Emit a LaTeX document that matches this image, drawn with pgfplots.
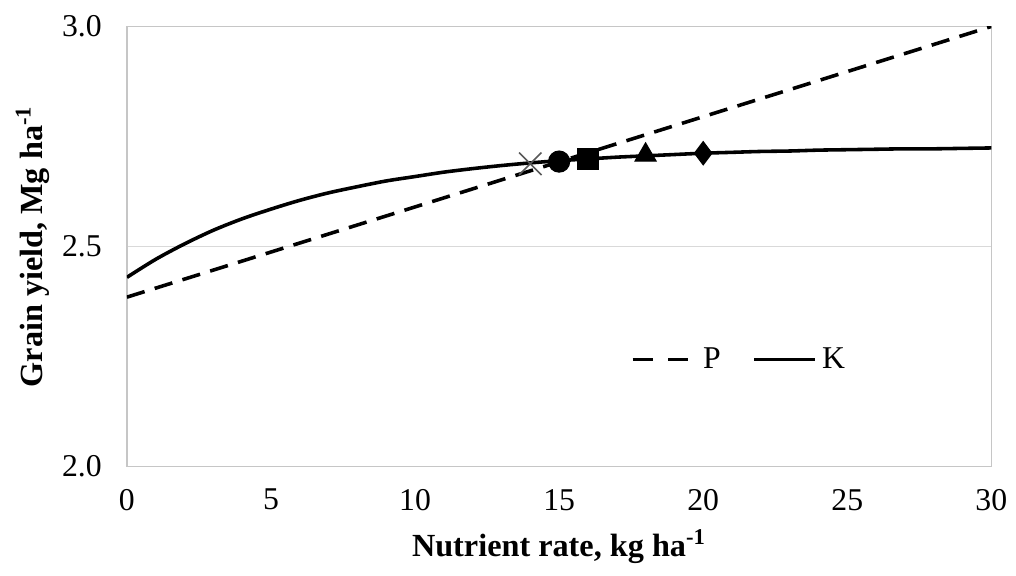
\documentclass[border={2.6pt 1pt 0pt 2.6pt}]{standalone}
\usepackage{pgfplots}
\pgfplotsset{compat=1.18}
\usepackage{fontspec}
\setmainfont{Liberation Serif}

\begin{document}
\begin{tikzpicture}
\begin{axis}[
  scale only axis,
  width=327pt, height=166.5pt,
  xmin=0, xmax=30, ymin=2.0, ymax=3.0,
  xtick={0,5,...,30}, ytick={2.0,2.5,3.0},
  tick style={draw=none},
  axis line style={draw=gray!45, line width=0.6pt},
  ymajorgrids=true,
  grid style={draw=gray!30, line width=0.6pt},
  /pgf/number format/assume math mode=true,
  yticklabel style={/pgf/number format/fixed, /pgf/number format/zerofill,
    /pgf/number format/precision=1, xshift=-6pt},
  xticklabel style={yshift=-5pt},
  tick label style={font=\fontsize{12}{14}\selectfont},
  xlabel={\textbf{Nutrient rate, kg ha\textsuperscript{-1}}},
  ylabel={\textbf{Grain yield, Mg ha\textsuperscript{-1}}},
  label style={font=\fontsize{12.2}{14}\selectfont},
  xlabel style={yshift=-0.5pt},
  ylabel style={yshift=-2pt},
  clip=true,
  legend columns=2,
  legend style={draw=none, fill=none, at={(0.71,0.243)}, anchor=center,
    font=\fontsize{12}{14}\selectfont,
    /tikz/every even column/.append style={column sep=10pt}},
  legend image code/.code={\draw[#1] (0pt,0pt) -- (23pt,0pt);},
]
\addplot[black, line width=1.35pt, dash pattern=on 7pt off 4pt,
  legend image code/.code={\draw[black, line width=1.35pt, dash pattern=on 7.5pt off 6pt] (0pt,0pt) -- (21pt,0pt);}]
  coordinates {(0,2.385) (30,3.0)};
\addlegendentry{\hspace{3pt}P}
\addplot[black, line width=1.35pt, smooth] coordinates {
  (0,2.430) (1,2.471) (2,2.506) (3,2.537) (4,2.563) (5,2.585) (6,2.605)
  (7,2.622) (8,2.636) (9,2.649) (10,2.659) (11,2.669) (12,2.677) (13,2.684)
  (14,2.690) (15,2.695) (16,2.699) (17,2.703) (18,2.706) (19,2.709) (20,2.712)
  (21,2.714) (22,2.716) (23,2.717) (24,2.719) (25,2.720) (26,2.721) (27,2.722)
  (28,2.722) (29,2.723) (30,2.724)
};
\addlegendentry{K}
\addplot[only marks, mark=x, mark size=6pt, draw=black!65, line width=0.6pt, forget plot]
  coordinates {(14,2.688)};
\addplot[only marks, mark=*, mark size=4pt, black, forget plot]
  coordinates {(15,2.693)};
\addplot[only marks, mark=square*, mark size=4pt, black, forget plot]
  coordinates {(16,2.698)};
\addplot[only marks, mark=triangle*, mark size=4.6pt, black, forget plot]
  coordinates {(18,2.708)};
\addplot[only marks, mark=diamond*, mark size=4.4pt, black, forget plot]
  coordinates {(20,2.712)};
\end{axis}
\end{tikzpicture}
\end{document}
